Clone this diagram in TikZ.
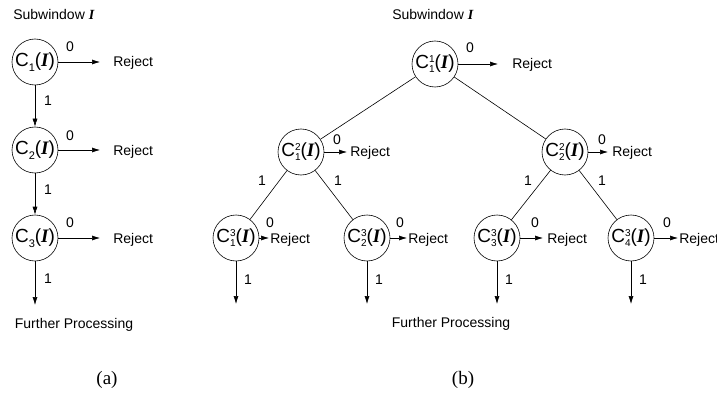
\documentclass[tikz,border=0pt]{standalone}
\usepackage{fontspec}
\setmainfont{Liberation Sans}
\newfontfamily\timesf{Liberation Serif}
\usetikzlibrary{arrows.meta}
\newcommand{\Ib}{{\timesf\bfseries\itshape I}}
\newcommand{\Cs}[2]{C{\fontsize{10}{10}\selectfont\rlap{\raisebox{6pt}{#2}}\raisebox{-4pt}{#1}}}
\newcommand{\Ca}[1]{C{\fontsize{11}{11}\selectfont\raisebox{-5pt}{#1}}}
\begin{document}
\begin{tikzpicture}[x=1pt,y=-1pt,line width=0.6pt,
  cls/.style={circle,draw,minimum size=46pt,inner sep=0pt,font=\fontsize{19}{20}\selectfont},
  lab/.style={font=\fontsize{14}{16}\selectfont,inner sep=0pt,text height=10pt,text depth=0pt},
  captxt/.style={font=\timesf\fontsize{19}{20}\selectfont,inner sep=0pt},
  arr/.style={-{Latex[length=8pt,width=5pt]}}]
\useasboundingbox (0,0) rectangle (717,393);
% ---------- (a)
\node[lab,anchor=west] (sa) at (13,15) {Subwindow \Ib};
\node[cls] (a1) at (35,62) {\Ca{1}(\Ib)};
\node[cls] (a2) at (35,150) {\Ca{2}(\Ib)};
\node[cls] (a3) at (35,238) {\Ca{3}(\Ib)};
\node[lab,anchor=west] (ra1) at (113,62) {Reject};
\node[lab,anchor=west] (ra2) at (113,150) {Reject};
\node[lab,anchor=west] (ra3) at (113,238) {Reject};
\draw[arr,shorten >=13pt] (a1) -- (ra1);
\draw[arr,shorten >=13pt] (a2) -- (ra2);
\draw[arr,shorten >=13pt] (a3) -- (ra3);
\node[lab] (za1) at (70,47) {0};
\node[lab] (za2) at (70,135) {0};
\node[lab] (za3) at (70,222) {0};
\draw[arr] (a1) -- (a2);
\draw[arr] (a2) -- (a3);
\coordinate (ea) at (35,305);
\draw[arr] (a3) -- (ea);
\node[lab] (oa1) at (48,101) {1};
\node[lab] (oa2) at (48,189) {1};
\node[lab] (oa3) at (48,278) {1};
\node[lab] (fa) at (74,323) {Further Processing};
\node[captxt] (capa) at (107,380) {(a)};
% ---------- (b)
\node[lab,anchor=west] (sb) at (392,15) {Subwindow \Ib};
\node[cls] (b11) at (435,64) {\Cs{1}{1}(\Ib)};
\node[cls] (b21) at (301,152) {\Cs{1}{2}(\Ib)};
\node[cls] (b22) at (565,152) {\Cs{2}{2}(\Ib)};
\node[cls] (b31) at (236,238) {\Cs{1}{3}(\Ib)};
\node[cls] (b32) at (367,238) {\Cs{2}{3}(\Ib)};
\node[cls] (b33) at (497,238) {\Cs{3}{3}(\Ib)};
\node[cls] (b34) at (631,238) {\Cs{4}{3}(\Ib)};
\node[lab,anchor=west] (rb11) at (512,64) {Reject};
\node[lab,anchor=west] (rb21) at (350,152) {Reject};
\node[lab,anchor=west] (rb22) at (612,152) {Reject};
\node[lab,anchor=west] (rb31) at (270,238) {Reject};
\node[lab,anchor=west] (rb32) at (408,238) {Reject};
\node[lab,anchor=west] (rb33) at (547,238) {Reject};
\node[lab,anchor=west] (rb34) at (679,238) {Reject};
\draw[arr,shorten >=14pt] (b11) -- (rb11);
\draw[arr,shorten >=3pt] (b21) -- (rb21);
\draw[arr,shorten >=4pt] (b22) -- (rb22);
\draw[arr,shorten >=1pt] (b31) -- (rb31);
\draw[arr,shorten >=1pt] (b32) -- (rb32);
\draw[arr,shorten >=4pt] (b33) -- (rb33);
\draw[arr,shorten >=1pt] (b34) -- (rb34);
\node[lab] (zb11) at (470,48) {0};
\node[lab] (zb21) at (337,139) {0};
\node[lab] (zb22) at (602,139) {0};
\node[lab] (zb31) at (270,222) {0};
\node[lab] (zb32) at (400,222) {0};
\node[lab] (zb33) at (535,222) {0};
\node[lab] (zb34) at (667,222) {0};
\draw (b11) -- (b21);
\draw (b11) -- (b22);
\draw (b21) -- (b31);
\draw (b21) -- (b32);
\draw (b22) -- (b33);
\draw (b22) -- (b34);
\node[lab] (ob1) at (262,180) {1};
\node[lab] (ob2) at (338,180) {1};
\node[lab] (ob3) at (528,180) {1};
\node[lab] (ob4) at (602,180) {1};
\coordinate (eb1) at (236,304);
\coordinate (eb2) at (367,304);
\coordinate (eb3) at (497,304);
\coordinate (eb4) at (631,304);
\draw[arr] (b31) -- (eb1);
\draw[arr] (b32) -- (eb2);
\draw[arr] (b33) -- (eb3);
\draw[arr] (b34) -- (eb4);
\node[lab] (pb1) at (248,279) {1};
\node[lab] (pb2) at (379,279) {1};
\node[lab] (pb3) at (509,279) {1};
\node[lab] (pb4) at (643,279) {1};
\node[lab] (fb) at (451,322) {Further Processing};
\node[captxt] (capb) at (463,380) {(b)};
\end{tikzpicture}
\end{document}
